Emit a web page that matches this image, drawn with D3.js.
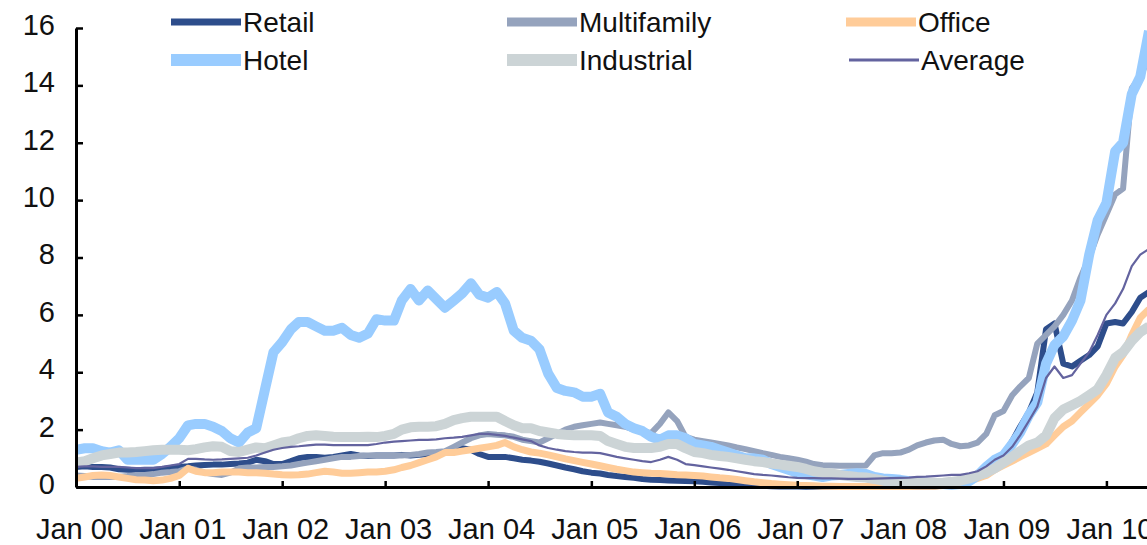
<!DOCTYPE html>
<html>
<head>
<meta charset="utf-8">
<script src="https://cdn.jsdelivr.net/npm/d3@7"></script>
<style>
  body { margin: 0; background: #fff; }
  text { font-family: "Liberation Sans", Arial, sans-serif; }
</style>
</head>
<body>
<svg id="canvas" width="1147" height="545"></svg>
<script>
// monthly observations, Jan 2000 .. Jun 2010
var startYear = 2000, nMonths = 126;
var months = d3.range(nMonths).map(function(m){ return new Date(startYear, m, 1); });

var retail = [0.7,0.72,0.7,0.7,0.68,0.62,0.6,0.58,0.6,0.6,0.62,0.66,
  0.7,0.72,0.75,0.77,0.78,0.78,0.8,0.82,0.85,0.95,0.9,0.8,
  0.8,0.9,1.0,1.05,1.05,1.02,1.05,1.1,1.15,1.1,1.08,1.1,
  1.1,1.1,1.12,1.1,1.12,1.15,1.18,1.22,1.28,1.35,1.3,1.15,
  1.05,1.05,1.05,1.0,0.95,0.92,0.88,0.82,0.75,0.68,0.62,0.55,
  0.5,0.47,0.42,0.38,0.35,0.32,0.28,0.25,0.24,0.23,0.22,0.21,
  0.2,0.18,0.16,0.14,0.12,0.1,0.08,0.05,0.04,0.03,0.02,0.02,
  0.02,0.01,0.01,0.01,0.02,0.02,0.02,0.02,0.02,0.02,0.02,0.02,
  0.02,0.02,0.02,0.02,0.02,0.05,0.1,0.2,0.3,0.45,0.65,0.9,
  1.1,1.6,2.1,2.6,3.3,5.5,5.7,4.3,4.2,4.4,4.6,4.9,
  5.7,5.75,5.7,6.1,6.6,6.8];

var multifamily = [0.4,0.38,0.35,0.35,0.35,0.35,0.38,0.42,0.42,0.45,0.5,0.52,
  0.55,0.65,0.6,0.5,0.45,0.42,0.5,0.65,0.68,0.68,0.7,0.7,
  0.72,0.75,0.8,0.85,0.9,0.95,1.0,1.05,1.05,1.08,1.1,1.1,
  1.1,1.1,1.1,1.12,1.15,1.2,1.22,1.25,1.4,1.55,1.7,1.8,
  1.85,1.82,1.8,1.75,1.65,1.6,1.55,1.7,1.85,2.0,2.1,2.15,
  2.2,2.25,2.2,2.15,2.1,2.0,1.95,1.88,2.2,2.6,2.3,1.75,
  1.65,1.6,1.55,1.5,1.45,1.38,1.32,1.25,1.18,1.12,1.05,1.0,
  0.95,0.88,0.8,0.76,0.75,0.74,0.74,0.74,0.75,1.1,1.18,1.18,
  1.2,1.3,1.45,1.55,1.62,1.65,1.5,1.42,1.45,1.55,1.85,2.5,
  2.65,3.2,3.5,3.8,5.0,5.3,5.6,6.0,6.5,7.3,8.0,8.8,
  9.5,10.2,10.4,13.9,14.3,15.0];

var office = [0.3,0.35,0.4,0.42,0.4,0.35,0.3,0.25,0.24,0.22,0.24,0.3,
  0.4,0.65,0.55,0.5,0.5,0.52,0.52,0.52,0.5,0.5,0.48,0.45,
  0.43,0.42,0.43,0.45,0.5,0.55,0.52,0.48,0.48,0.5,0.52,0.52,
  0.55,0.6,0.68,0.75,0.85,0.95,1.05,1.2,1.2,1.25,1.3,1.35,
  1.4,1.45,1.55,1.4,1.3,1.22,1.18,1.12,1.05,0.98,0.92,0.86,
  0.8,0.74,0.68,0.62,0.57,0.52,0.5,0.48,0.47,0.45,0.43,0.42,
  0.4,0.38,0.35,0.32,0.3,0.26,0.22,0.18,0.15,0.12,0.1,0.08,
  0.06,0.05,0.04,0.03,0.03,0.02,0.02,0.02,0.02,0.02,0.02,0.02,
  0.02,0.02,0.03,0.03,0.03,0.05,0.08,0.12,0.2,0.3,0.4,0.6,
  0.75,0.9,1.05,1.2,1.35,1.5,1.8,2.1,2.3,2.6,2.9,3.2,
  3.6,4.2,4.6,5.3,5.9,6.2];

var hotel = [1.3,1.35,1.35,1.25,1.2,1.28,0.95,0.95,0.95,0.95,1.15,1.4,
  1.7,2.15,2.2,2.2,2.1,1.95,1.7,1.55,1.9,2.05,3.4,4.7,
  5.05,5.5,5.75,5.75,5.6,5.45,5.45,5.55,5.3,5.2,5.35,5.85,
  5.8,5.8,6.5,6.9,6.5,6.85,6.55,6.25,6.5,6.75,7.1,6.7,
  6.6,6.8,6.4,5.45,5.2,5.1,4.8,3.95,3.45,3.35,3.3,3.15,
  3.15,3.25,2.6,2.45,2.2,2.05,1.95,1.75,1.65,1.8,1.8,1.7,
  1.5,1.45,1.4,1.3,1.2,1.1,1.0,1.0,0.95,0.8,0.7,0.6,
  0.5,0.45,0.4,0.35,0.4,0.42,0.45,0.48,0.45,0.35,0.3,0.28,
  0.25,0.2,0.18,0.15,0.12,0.1,0.08,0.1,0.2,0.4,0.7,0.95,
  1.1,1.5,1.9,2.5,2.95,4.3,4.95,5.25,5.8,6.5,8.1,9.3,
  9.9,11.7,12.0,13.7,14.3,15.9];

var industrial = [0.85,0.9,1.0,1.1,1.15,1.2,1.2,1.22,1.25,1.28,1.3,1.3,
  1.3,1.28,1.32,1.38,1.42,1.4,1.25,1.22,1.3,1.38,1.35,1.45,
  1.55,1.6,1.7,1.78,1.8,1.78,1.75,1.74,1.74,1.74,1.75,1.74,
  1.78,1.85,2.0,2.08,2.1,2.1,2.12,2.2,2.33,2.4,2.45,2.45,
  2.45,2.45,2.3,2.15,2.05,2.05,1.95,1.9,1.85,1.82,1.8,1.8,
  1.8,1.78,1.6,1.5,1.4,1.36,1.36,1.36,1.4,1.5,1.5,1.35,
  1.22,1.18,1.12,1.08,1.05,1.0,0.95,0.9,0.87,0.82,0.78,0.74,
  0.7,0.63,0.55,0.5,0.47,0.42,0.38,0.35,0.33,0.28,0.22,0.18,
  0.17,0.15,0.14,0.14,0.14,0.15,0.18,0.22,0.3,0.4,0.5,0.65,
  0.85,1.05,1.25,1.45,1.55,1.8,2.4,2.7,2.85,3.0,3.2,3.4,
  3.9,4.5,4.7,5.1,5.4,5.6];

var average = [0.7,0.72,0.72,0.7,0.7,0.7,0.68,0.66,0.66,0.66,0.7,0.75,
  0.8,0.98,0.98,0.96,0.95,0.96,0.98,1.0,1.02,1.1,1.2,1.3,
  1.36,1.4,1.42,1.45,1.48,1.48,1.46,1.46,1.46,1.46,1.46,1.5,
  1.55,1.58,1.6,1.62,1.64,1.64,1.66,1.7,1.72,1.75,1.8,1.85,
  1.85,1.82,1.78,1.72,1.66,1.6,1.45,1.36,1.3,1.25,1.22,1.2,
  1.2,1.18,1.12,1.05,1.0,0.95,0.9,0.87,0.95,1.05,0.95,0.8,
  0.76,0.72,0.68,0.64,0.6,0.55,0.5,0.45,0.42,0.4,0.37,0.34,
  0.32,0.31,0.31,0.3,0.3,0.29,0.28,0.28,0.28,0.29,0.3,0.31,
  0.32,0.33,0.35,0.36,0.38,0.4,0.42,0.42,0.48,0.55,0.72,0.95,
  1.1,1.4,1.8,2.3,2.8,3.8,4.2,3.8,3.9,4.3,4.7,5.3,
  6.0,6.4,6.9,7.7,8.1,8.3];

var seriesNames = ['Retail', 'Multifamily', 'Office', 'Hotel', 'Industrial', 'Average'];
var seriesValues = [retail, multifamily, office, hotel, industrial, average];
var yTicks = [0, 2, 4, 6, 8, 10, 12, 14, 16];

// ************************************************************************************************** //
// Styles and layout

var colors = ['#2d4d8b', '#95a3bd', '#ffcc99', '#99ccff', '#ccd4d6', '#63639f'];
var widths = [6, 6, 7, 10, 10, 2.2];
var legendWidths = [7, 9, 9, 12, 12, 3];
var legendPos = [[171, 22], [507, 22], [846, 22], [171, 60], [507, 60], [849, 60]];

var svg = d3.select('#canvas');
svg.append('rect').attr('width', 1147).attr('height', 545).attr('fill', '#fff');

var x = d3.scaleTime().domain([new Date(2000, 0, 1), new Date(2010, 5, 1)]).range([76, 1149]);
var y = d3.scaleLinear().domain([0, 16]).range([487, 28]);

svg.append('clipPath').attr('id', 'plot').append('rect')
  .attr('x', 76).attr('y', 0).attr('width', 1071).attr('height', 490);

// ************************************************************************************************** //
// Lines

var line = d3.line()
  .x(function(d){ return x(d.date); })
  .y(function(d){ return y(d.value); });

var lines = svg.append('g').attr('clip-path', 'url(#plot)');
seriesValues.forEach(function(vals, i){
  var data = vals.map(function(v, j){ return { date: months[j], value: v }; });
  lines.append('path')
    .attr('d', line(data))
    .attr('fill', 'none')
    .attr('stroke', colors[i])
    .attr('stroke-width', widths[i])
    .attr('stroke-linejoin', 'round');
});

// ************************************************************************************************** //
// Axes

var yAxis = svg.append('g').attr('transform', 'translate(76,0)')
  .call(d3.axisLeft(y).tickValues(yTicks).tickSizeInner(-7).tickSizeOuter(0).tickPadding(21));
var xAxis = svg.append('g').attr('transform', 'translate(0,487)')
  .call(d3.axisBottom(x).ticks(d3.timeYear.every(1)).tickFormat(d3.timeFormat('%b %y'))
    .tickSizeInner(-6).tickSizeOuter(0).tickPadding(31));

[yAxis, xAxis].forEach(function(a){
  a.select('.domain').attr('stroke', '#000').attr('stroke-width', 3);
  a.selectAll('.tick line').attr('stroke', '#000').attr('stroke-width', 2.5);
  a.selectAll('.tick text').attr('font-size', 29).attr('fill', '#111')
    .attr('font-family', '"Liberation Sans", Arial, sans-serif');
});
yAxis.selectAll('.tick text').attr('dy', '0.22em');
xAxis.selectAll('.tick text').attr('dx', 3);

// ************************************************************************************************** //
// Legend

var legend = svg.append('g');
seriesNames.forEach(function(name, i){
  var p = legendPos[i];
  legend.append('line')
    .attr('x1', p[0]).attr('x2', p[0] + 70).attr('y1', p[1]).attr('y2', p[1])
    .attr('stroke', colors[i]).attr('stroke-width', legendWidths[i]);
  legend.append('text')
    .attr('x', p[0] + 72).attr('y', p[1] + 10)
    .attr('font-size', 28).attr('fill', '#111')
    .text(name);
});
</script>
</body>
</html>
